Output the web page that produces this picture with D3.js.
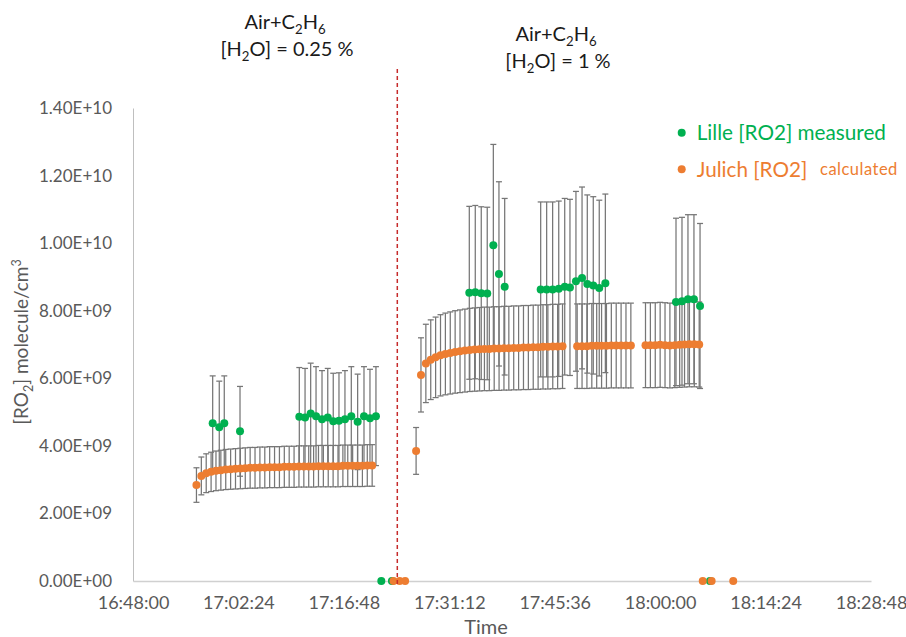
<!DOCTYPE html>
<html><head><meta charset="utf-8">
<script src="https://cdn.jsdelivr.net/npm/d3@7"></script>
<style>
body{margin:0;background:#fff}
svg{display:block;font-family:Lato,"Open Sans",sans-serif}
</style>
</head><body><svg id="chart" width="906" height="637"></svg>
<script>
// ---------- DATA ----------
const TIME_TICKS = ["16:48:00","17:02:24","17:16:48","17:31:12","17:45:36","18:00:00","18:14:24","18:28:48"];
const Y_TICKS = [0, 2e9, 4e9, 6e9, 8e9, 1e10, 1.2e10, 1.4e10];

const lilleTimes = [
  "16:58:53","16:59:47","17:00:28","17:02:37",
  "17:10:43","17:11:30","17:12:16","17:13:00","17:13:49","17:14:36","17:15:21","17:16:08","17:16:57","17:17:49","17:18:41","17:19:33","17:20:22","17:21:11",
  "17:21:55","17:23:22",
  "17:33:56","17:34:45","17:35:34","17:36:23","17:37:13","17:37:59","17:38:46",
  "17:43:41","17:44:30","17:45:19","17:46:09","17:46:58","17:47:41","17:48:30","17:49:20","17:50:03","17:50:52","17:51:41","17:52:31",
  "18:02:10","18:02:59","18:03:48","18:04:37","18:05:27",
  "18:06:48"
];
const lilleValues = [
  4.67e9,4.55e9,4.67e9,4.43e9,
  4.86e9,4.84e9,4.96e9,4.88e9,4.79e9,4.84e9,4.73e9,4.74e9,4.79e9,4.88e9,4.71e9,4.88e9,4.82e9,4.88e9,
  0,0,
  8.53e9,8.55e9,8.52e9,8.51e9,9.94e9,9.09e9,8.71e9,
  8.63e9,8.63e9,8.63e9,8.65e9,8.71e9,8.69e9,8.87e9,8.97e9,8.79e9,8.75e9,8.67e9,8.81e9,
  8.26e9,8.28e9,8.34e9,8.34e9,8.14e9,
  0
];

const julichTimes = [
  "16:56:40","16:57:20","16:58:00","16:58:40","16:59:20","17:00:00","17:00:40","17:01:20","17:02:00","17:02:40",
  "17:03:20","17:04:00","17:04:40","17:05:20","17:06:00","17:06:40","17:07:20","17:08:00","17:08:40","17:09:20",
  "17:10:00","17:10:40","17:11:20","17:12:00","17:12:40","17:13:20","17:14:00","17:14:40","17:15:20","17:16:00",
  "17:16:40","17:17:20","17:18:00","17:18:40","17:19:20","17:20:00","17:20:40",
  "17:23:35","17:24:25","17:25:10",
  "17:26:40","17:27:20","17:28:00","17:28:40","17:29:20","17:30:00","17:30:40","17:31:20","17:32:00","17:32:40",
  "17:33:20","17:34:00","17:34:40","17:35:20","17:36:00","17:36:40","17:37:20","17:38:00","17:38:40","17:39:20",
  "17:40:00","17:40:40","17:41:20","17:42:00","17:42:40","17:43:20","17:44:00","17:44:40","17:45:20","17:46:00","17:46:40",
  "17:48:40","17:49:20","17:50:00","17:50:40","17:51:20","17:52:00","17:52:40","17:53:20","17:54:00","17:54:40","17:55:20","17:56:00",
  "17:58:00","17:58:40","17:59:20","18:00:00","18:00:40","18:01:20","18:02:00","18:02:40","18:03:20","18:04:00","18:04:40","18:05:20",
  "18:05:49","18:07:02","18:09:59"
];
const julichValues = [
  2.84e9,3.11e9,3.19e9,3.23e9,3.26e9,3.28e9,3.30e9,3.31e9,3.32e9,3.33e9,
  3.34e9,3.35e9,3.35e9,3.36e9,3.36e9,3.37e9,3.37e9,3.37e9,3.38e9,3.38e9,
  3.38e9,3.39e9,3.39e9,3.39e9,3.39e9,3.40e9,3.40e9,3.40e9,3.40e9,3.40e9,
  3.41e9,3.41e9,3.41e9,3.41e9,3.41e9,3.42e9,3.42e9,
  0,0,0,
  3.85e9,6.10e9,6.44e9,6.55e9,6.62e9,6.68e9,6.72e9,6.75e9,6.78e9,6.80e9,
  6.82e9,6.84e9,6.85e9,6.86e9,6.87e9,6.87e9,6.88e9,6.88e9,6.89e9,6.89e9,
  6.90e9,6.90e9,6.91e9,6.91e9,6.92e9,6.92e9,6.93e9,6.93e9,6.94e9,6.94e9,6.95e9,
  6.95e9,6.95e9,6.95e9,6.96e9,6.96e9,6.96e9,6.96e9,6.97e9,6.97e9,6.97e9,6.97e9,6.97e9,
  6.98e9,6.98e9,6.98e9,6.99e9,6.98e9,6.97e9,6.98e9,6.99e9,7.00e9,7.01e9,7.01e9,7.00e9,
  0,0,0
];

// percentage error bars (chart setting)
const LILLE_ERR_PCT = 0.30;
const JULICH_ERR_PCT = 0.18;
const DIVIDER_TIME = "17:24:06";

const LEGEND_LABELS = ["Lille [RO2] measured", "Julich [RO2]", "calculated"];
const Y_TITLE = ["[RO", "2", "] molecule/cm", "3"];
const X_TITLE = "Time";

// ---------- RENDER ----------
const toSec = s => { const [h,m,x] = s.split(":").map(Number); return h*3600+m*60+x; };
const pad = n => String(n).padStart(2,"0");
const fmtTime = v => `${Math.floor(v/3600)}:${pad(Math.floor(v%3600/60))}:${pad(Math.round(v%60))}`;
const fmtSci = v => {
  const [m,e] = v.toExponential(2).split("e");
  const sign = e[0] === "-" ? "-" : "+";
  return `${m}E${sign}${pad(Math.abs(+e))}`;
};

const GREEN = "#00b050", ORANGE = "#ed7d31", ERR = "#767676", TXT = "#595959";
const svg = d3.select("#chart");

const x = d3.scaleLinear()
  .domain([toSec(TIME_TICKS[0]), toSec(TIME_TICKS[TIME_TICKS.length-1])])
  .range([133, 871]);
const y = d3.scaleLinear().domain([0, 1.4e10]).range([581, 108]);

// axes
const yAxis = svg.append("g").attr("transform","translate(133,0)")
  .call(d3.axisLeft(y).tickValues(Y_TICKS).tickFormat(fmtSci).tickSize(0).tickPadding(21));
yAxis.select(".domain").attr("stroke","#bfbfbf").attr("stroke-width",1);
yAxis.selectAll("text").attr("fill",TXT).style("font-size","17px").style("font-family","Lato");

const xAxis = svg.append("g").attr("transform","translate(0,581)")
  .call(d3.axisBottom(x).tickValues(TIME_TICKS.map(toSec)).tickFormat(fmtTime).tickSize(0).tickPadding(15));
xAxis.select(".domain").attr("stroke","#d0d0d0").attr("stroke-width",1.6);
xAxis.selectAll("text").attr("fill",TXT).style("font-size","18px").style("font-family","Lato");

// error bars
function errorBars(times, values, pct) {
  const g = svg.append("g").attr("stroke", ERR).attr("stroke-width", 1.25).attr("fill","none");
  times.forEach((t,i) => {
    const v = values[i]; if (!v) return;
    const cx = x(toSec(t)), y1 = y(v*(1+pct)), y0 = y(v*(1-pct));
    g.append("line").attr("x1",cx).attr("x2",cx).attr("y1",y1).attr("y2",y0);
    g.append("line").attr("x1",cx-3).attr("x2",cx+3).attr("y1",y1).attr("y2",y1);
    g.append("line").attr("x1",cx-3).attr("x2",cx+3).attr("y1",y0).attr("y2",y0);
  });
}
errorBars(lilleTimes, lilleValues, LILLE_ERR_PCT);
errorBars(julichTimes, julichValues, JULICH_ERR_PCT);

function dots(times, values, color) {
  svg.append("g").selectAll("circle").data(times).join("circle")
    .attr("cx", d => x(toSec(d))).attr("cy", (d,i) => y(values[i]))
    .attr("r", 4).attr("fill", color);
}
dots(lilleTimes, lilleValues, GREEN);
dots(julichTimes, julichValues, ORANGE);

// divider
svg.append("line")
  .attr("x1", x(toSec(DIVIDER_TIME))).attr("x2", x(toSec(DIVIDER_TIME)))
  .attr("y1", 69).attr("y2", 586)
  .attr("stroke","#c62b2b").attr("stroke-width",1.5).attr("stroke-dasharray","4,3");

// rich text helper
function rich(parent, px, py, parts, size, fill, anchor="middle") {
  const t = parent.append("text").attr("x",px).attr("y",py).attr("text-anchor",anchor)
    .attr("fill",fill).style("font-size",size+"px");
  let shift = 0;
  parts.forEach(([s, kind]) => {
    const target = kind==="sub" ? size*0.25 : kind==="sup" ? -size*0.38 : 0;
    t.append("tspan").attr("dy", target - shift)
      .style("font-size", kind ? (size*0.66)+"px" : size+"px").text(s);
    shift = target;
  });
  return t;
}

// annotations
rich(svg, 285, 29, [["Air+C"],["2","sub"],["H"],["6","sub"]], 20, "#1a1a1a");
rich(svg, 287, 56, [["[H"],["2","sub"],["O] = 0.25 %"]], 20, "#1a1a1a");
rich(svg, 556, 41, [["Air+C"],["2","sub"],["H"],["6","sub"]], 20, "#1a1a1a");
rich(svg, 558, 68, [["[H"],["2","sub"],["O] = 1 %"]], 20, "#1a1a1a");

// axis titles
const yt = svg.append("g").attr("transform","translate(28,342) rotate(-90)");
rich(yt, 0, 0, [[Y_TITLE[0]],[Y_TITLE[1],"sub"],[Y_TITLE[2]],[Y_TITLE[3],"sup"]], 19, TXT);
svg.append("text").attr("x",486).attr("y",634).attr("text-anchor","middle")
  .attr("fill",TXT).style("font-size","20px").text(X_TITLE);

// legend
const lg = svg.append("g");
lg.append("circle").attr("cx",681.7).attr("cy",132.7).attr("r",4).attr("fill",GREEN);
lg.append("text").attr("x",696.7).attr("y",132.7).attr("dy","0.36em").attr("fill",GREEN)
  .style("font-size","20.7px").text(LEGEND_LABELS[0]);
lg.append("circle").attr("cx",681.7).attr("cy",169.3).attr("r",4).attr("fill",ORANGE);
lg.append("text").attr("x",696.7).attr("y",169.3).attr("dy","0.36em").attr("fill",ORANGE)
  .style("font-size","20.7px").text(LEGEND_LABELS[1]);
lg.append("text").attr("x",820).attr("y",169.3).attr("dy","0.36em").attr("fill",ORANGE)
  .style("font-size","16.5px").style("letter-spacing","0.5px").text(LEGEND_LABELS[2]);
</script>
</body></html>
